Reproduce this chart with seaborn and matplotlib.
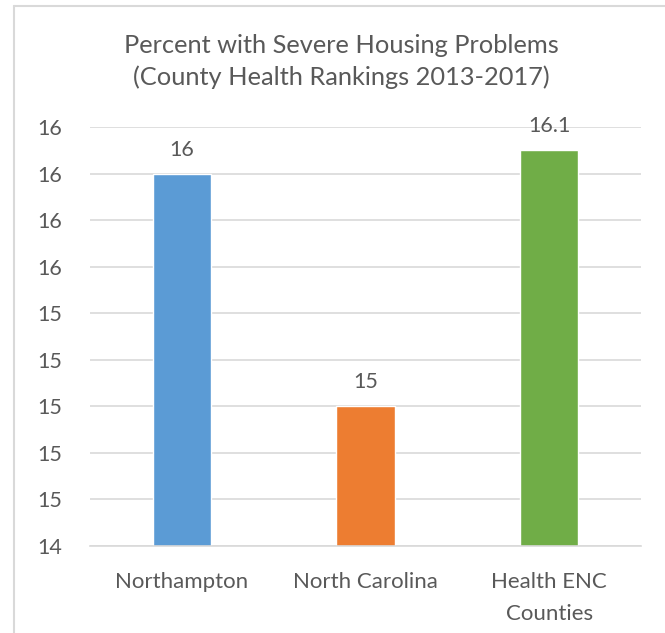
import matplotlib
matplotlib.use("Agg")
import matplotlib.pyplot as plt
from matplotlib.lines import Line2D
import seaborn as sns
import pandas as pd

categories = ["Northampton", "North Carolina", "Health ENC\nCounties"]
values = [16.0, 15.0, 16.1]
bar_colors = ["#5B9BD5", "#ED7D31", "#70AD47"]
y_ticks = [14.4, 14.6, 14.8, 15.0, 15.2, 15.4, 15.6, 15.8, 16.0, 16.2]
y_tick_labels = ["14", "15", "15", "15", "15", "15", "16", "16", "16", "16"]
title = "Percent with Severe Housing Problems\n(County Health Rankings 2013-2017)"

TEXT = "#595959"
GRID = "#D9D9D9"

sns.set_theme(style="white")
plt.rcParams["font.family"] = ["Lato", "DejaVu Sans"]

df = pd.DataFrame({"Area": categories, "Percent": values})

fig = plt.figure(figsize=(6.65, 6.33), dpi=100)
ax = fig.add_axes([0.1353, 0.1374, 0.8286, 0.662])

sns.barplot(
    data=df,
    x="Area",
    y="Percent",
    hue="Area",
    palette=bar_colors,
    saturation=1,
    width=0.316,
    legend=False,
    ax=ax,
)

ax.set_ylim(y_ticks[0], y_ticks[-1])
ax.set_yticks(y_ticks)
ax.set_yticklabels(y_tick_labels)
ax.set_axisbelow(True)
ax.yaxis.grid(True, color=GRID, linewidth=1.2)
ax.xaxis.grid(False)
for side in ["left", "right", "top"]:
    ax.spines[side].set_visible(False)
ax.spines["bottom"].set_color(GRID)
ax.spines["bottom"].set_linewidth(1.2)

ax.tick_params(axis="y", length=0, pad=20, labelsize=15.5, labelcolor=TEXT)
ax.tick_params(axis="x", length=0, pad=19, labelsize=16, labelcolor=TEXT)
for lbl in ax.get_xticklabels():
    lbl.set_linespacing(1.75)
ax.set_xlabel("")
ax.set_ylabel("")

for container in ax.containers:
    ax.bar_label(container, fmt="%g", padding=10, fontsize=15.5, color=TEXT)

fig.text(0.513, 0.903, title, ha="center", va="center", fontsize=18.3,
         color=TEXT, linespacing=1.45)

# chart frame (left and top edges visible in the reference)
fig.add_artist(Line2D([0.021, 0.021], [0.0, 0.99], color=GRID, linewidth=1.5))
fig.add_artist(Line2D([0.021, 1.0], [0.99, 0.99], color=GRID, linewidth=1.5))

fig.savefig("out.png", dpi=100, facecolor="white")
